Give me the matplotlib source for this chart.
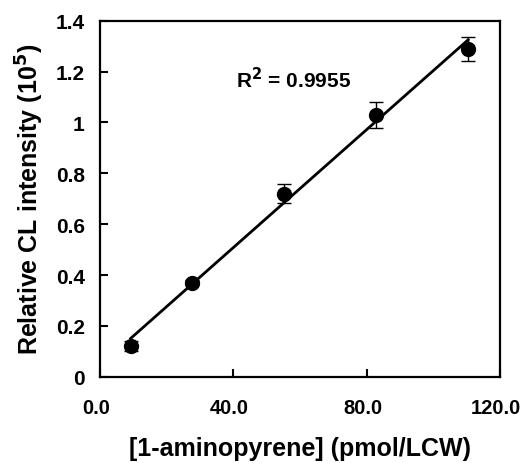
import numpy as np
import matplotlib
matplotlib.use("Agg")
import matplotlib.pyplot as plt
import matplotlib.transforms as mtransforms
from matplotlib.ticker import FuncFormatter

plt.rcParams['font.family'] = ['Liberation Sans', 'DejaVu Sans']
plt.rcParams['font.weight'] = 'bold'
plt.rcParams['mathtext.default'] = 'bf'

conc = [9.2, 27.6, 55.2, 82.8, 110.4]
intensity = [0.12, 0.37, 0.72, 1.03, 1.29]
err = [0.02, 0.01, 0.038, 0.05, 0.047]
x_ticks = [0, 40, 80, 120]
y_ticks = [0, 0.2, 0.4, 0.6, 0.8, 1.0, 1.2, 1.4]
r2_label = "R$^\\mathbf{2}$ = 0.9955"

fig = plt.figure(figsize=(5.21, 4.64), dpi=100)
ax = fig.add_axes([0.192, 0.186, 0.768, 0.767])

slope, intercept = np.polyfit(conc, intensity, 1)
xf = np.array([min(conc), max(conc)])
ax.plot(xf, slope * xf + intercept, color='black', lw=2.0, zorder=2)

ax.errorbar(conc, intensity, yerr=err, fmt='o', color='black', ms=10,
            ecolor='black', elinewidth=1.0, capsize=5, capthick=1.0, zorder=3)

ax.set_xlim(0, 120)
ax.set_ylim(0, 1.4)
ax.set_xticks(x_ticks)
ax.set_yticks(y_ticks)
ax.xaxis.set_major_formatter(FuncFormatter(lambda v, p: f"{v:.1f}"))
ax.yaxis.set_major_formatter(FuncFormatter(lambda v, p: f"{v:g}"))
ax.tick_params(direction='in', length=6, width=1.5, labelsize=15)
ax.tick_params(axis='x', pad=15, labelsize=14.5)
ax.tick_params(axis='y', pad=11)
for s in ax.spines.values():
    s.set_linewidth(1.6)

offset = mtransforms.ScaledTranslation(-4 / 100, 0, fig.dpi_scale_trans)
for lab in ax.get_xticklabels():
    lab.set_transform(lab.get_transform() + offset)

ax.set_xlabel("[1-aminopyrene] (pmol/LCW)", fontsize=18, fontweight='bold', labelpad=14)
ax.set_ylabel("Relative CL intensity (10$^\\mathbf{5}$)", fontsize=18, fontweight='bold', labelpad=7)
ax.text(40.7, 1.139, r2_label, fontsize=15, fontweight='bold', ha='left', va='baseline')

fig.savefig("out.png", dpi=100)
